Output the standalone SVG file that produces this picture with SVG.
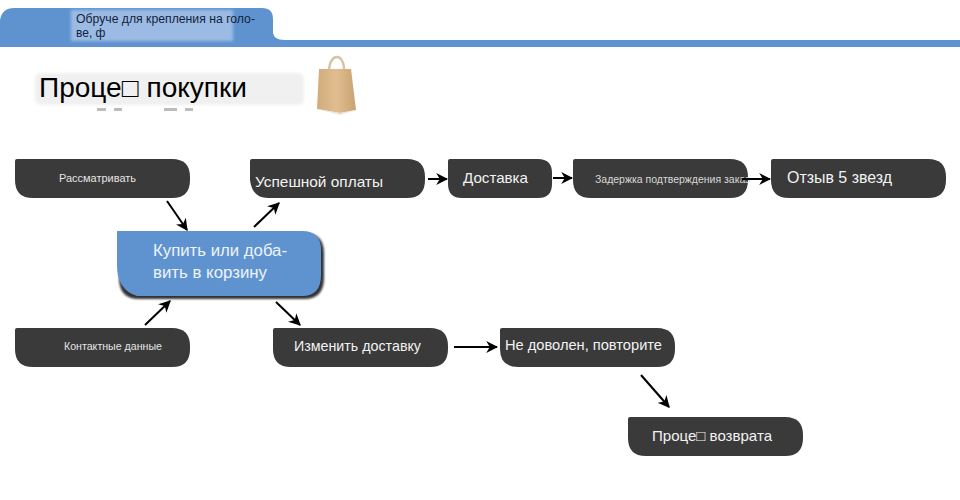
<svg xmlns="http://www.w3.org/2000/svg" width="960" height="500" viewBox="0 0 960 500">
<style>
text{font-family:"Liberation Sans",Arial,sans-serif}
.n{fill:#3a3a3a}
.t{fill:#f2f2f2;font-size:15px}
.s{fill:#e4e4e4;font-size:10px}
.c line{stroke:#000;stroke-width:2;marker-end:url(#a)}
</style>
<defs>
<marker id="a" viewBox="0 0 10 10" refX="9" refY="5" markerWidth="6" markerHeight="6" markerUnits="strokeWidth" orient="auto"><path d="M0 0L10 5L0 10L3 5Z" fill="#000"/></marker>
<filter id="b" x="-10%" y="-20%" width="120%" height="140%"><feGaussianBlur stdDeviation="1.5"/></filter>
<filter id="sh" x="-10%" y="-20%" width="120%" height="140%"><feGaussianBlur stdDeviation="1"/></filter>
<linearGradient id="bg" x1="0" x2="1" y1="0" y2="0"><stop offset="0" stop-color="#d2ab7b"/><stop offset=".5" stop-color="#e0bd90"/><stop offset="1" stop-color="#c9a272"/></linearGradient>
</defs>
<g id="header">
<path d="M0 47V20Q2 8 14 8H262Q273 8 273 19V33Q274 40 284 40H960V47Z" fill="#5f93d0"/>
<rect x="71" y="10" width="162" height="31" fill="#9cbbe4" filter="url(#b)"/>
<text x="76" y="23" font-size="12" fill="#12233c" textLength="179" lengthAdjust="spacingAndGlyphs">Обруче для крепления на голо-</text>
<text x="76" y="37" font-size="12" fill="#12233c">ве, ф</text>
</g>
<g id="title">
<rect x="35" y="73" width="269" height="32" rx="6" fill="#f0f0f0" filter="url(#b)"/>
<g fill="#bcbcbc"><rect x="97" y="108" width="9" height="3"/><rect x="114" y="108" width="8" height="3"/><rect x="164" y="108" width="13" height="3"/><rect x="185" y="108" width="8" height="3"/></g>
<text x="39" y="97" font-size="27" fill="#000" textLength="208" lengthAdjust="spacingAndGlyphs">Проце□ покупки</text>
</g>
<g id="bag">
<path d="M329 72C329 52 345 52 344 72" fill="none" stroke="#d8c4a4" stroke-width="2.5"/>
<path d="M319 69L351 69L356 110L340 113L317 109Z" fill="url(#bg)"/>
<path d="M317 109L340 113L356 110L340 115Z" fill="#ece5da"/>
</g>
<g id="n1"><path class="n" d="M15 161Q15 159 17 159H172Q190 159 190 177V180Q190 198 172 198H33Q15 198 15 180Z"/><text class="s" x="59" y="182" textLength="77" lengthAdjust="spacingAndGlyphs">Рассматривать</text></g>
<g id="n2"><path class="n" d="M250 161Q250 159 252 159H407Q425 159 425 177V180Q425 198 407 198H268Q252 198 250 180Z"/><text class="t" x="255" y="187" textLength="128" lengthAdjust="spacingAndGlyphs">Успешной оплаты</text></g>
<g id="n3"><path class="n" d="M448 161Q448 159 450 159H538Q552 159 552 173V184Q552 198 538 198H462Q448 198 448 184Z"/><text class="t" x="463" y="183" textLength="65" lengthAdjust="spacingAndGlyphs">Доставка</text></g>
<g id="n4"><path class="n" d="M573 161Q573 159 575 159H730Q748 159 748 177V180Q748 198 730 198H591Q573 198 573 180Z"/><text x="595" y="183" font-size="10" fill="#d8d8d8" textLength="155" lengthAdjust="spacingAndGlyphs">Задержка подтверждения заказ</text></g>
<g id="n5"><path class="n" d="M771 161Q771 159 773 159H928Q946 159 946 177V180Q946 198 928 198H789Q771 198 771 180Z"/><text class="t" x="787" y="183" style="font-size:16px" textLength="105" lengthAdjust="spacingAndGlyphs">Отзыв 5 звезд</text></g>
<g id="n6">
<path d="M119 233H304Q324 233 324 253V278Q324 299 304 299H139Q119 299 119 278Z" fill="#000" opacity=".8" filter="url(#sh)"/>
<path d="M117 231H302Q321 231 321 250V275Q321 296 302 296H137Q117 290 117 265Z" fill="#5f93d0"/>
<text x="153" y="256" font-size="16" fill="#eef3fa" textLength="134" lengthAdjust="spacingAndGlyphs">Купить или доба-</text>
<text x="153" y="278" font-size="16" fill="#eef3fa" textLength="114" lengthAdjust="spacingAndGlyphs">вить в корзину</text>
</g>
<g id="n7"><path class="n" d="M15 330Q15 328 17 328H172Q190 328 190 346V349Q190 367 172 367H33Q15 367 15 349Z"/><text class="s" x="64" y="350" textLength="98" lengthAdjust="spacingAndGlyphs">Контактные данные</text></g>
<g id="n8"><path class="n" d="M273 330Q273 328 275 328H430Q448 328 448 346V349Q448 367 430 367H291Q273 367 273 349Z"/><text class="t" x="294" y="351" textLength="127" lengthAdjust="spacingAndGlyphs">Изменить доставку</text></g>
<g id="n9"><path class="n" d="M500 330Q500 328 502 328H657Q675 328 675 346V349Q675 367 657 367H518Q500 367 500 349Z"/><text class="t" x="505" y="350" textLength="157" lengthAdjust="spacingAndGlyphs">Не доволен, повторите</text></g>
<g id="n10"><path class="n" d="M628 419Q628 417 630 417H785Q803 417 803 435V438Q803 456 785 456H646Q628 456 628 438Z"/><text class="t" x="652" y="441" textLength="120" lengthAdjust="spacingAndGlyphs">Проце□ возврата</text></g>
<g id="connectors" class="c">
<line x1="167" y1="201" x2="187" y2="230"/>
<line x1="254" y1="227" x2="279" y2="203"/>
<line x1="145" y1="325" x2="170" y2="301"/>
<line x1="276" y1="302" x2="300" y2="325"/>
<line x1="428" y1="179" x2="447" y2="179"/>
<line x1="553" y1="178" x2="572" y2="178"/>
<line x1="742" y1="179" x2="770" y2="179"/>
<line x1="454" y1="347" x2="497" y2="347"/>
<line x1="641" y1="375" x2="669" y2="407"/>
</g>
</svg>
